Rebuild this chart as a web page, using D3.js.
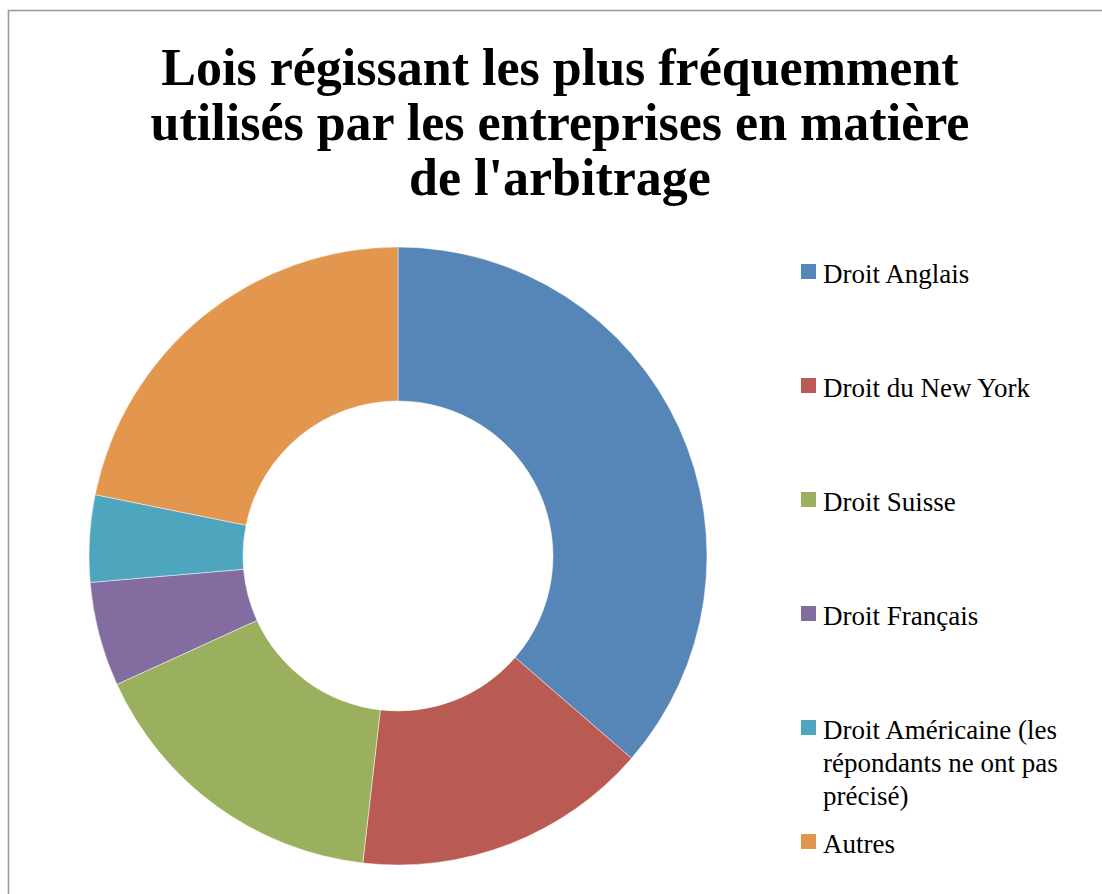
<!DOCTYPE html>
<html>
<head>
<meta charset="utf-8">
<script src="https://cdn.jsdelivr.net/npm/d3@7"></script>
<style>
  body { margin: 0; background: #fff; }
  svg { display: block; }
</style>
</head>
<body>
<div id="chart"></div>
<script>
const TITLE_LINES = [
  "Lois régissant les plus fréquemment",
  "utilisés par les entreprises en matière",
  "de l'arbitrage"
];

const CATEGORIES = [
  "Droit Anglais",
  "Droit du New York",
  "Droit Suisse",
  "Droit Français",
  "Droit Américaine (les\nrépondants ne ont pas\nprécisé)",
  "Autres"
];
const VALUES = [40, 17, 18, 6, 5, 24];
const COLORS = ["#5586B7", "#B95B52", "#9BB05E", "#836CA0", "#4EA6BE", "#E3964E"];

const WIDTH = 1102;
const HEIGHT = 894;
const CX = 398;
const CY = 556;
const OUTER_R = 309;
const INNER_R = 155;

document.addEventListener('DOMContentLoaded', function() {
  drawChart();
});

function drawChart()
{
  var svg = d3.select('#chart').append('svg')
    .attr('width', WIDTH)
    .attr('height', HEIGHT);

  svg.append('rect')
    .attr('x', 8.5)
    .attr('y', 10.5)
    .attr('width', WIDTH + 20)
    .attr('height', HEIGHT + 20)
    .style('fill', '#fff')
    .style('stroke', '#9c9c9c')
    .style('stroke-width', 1.6);

  // title
  var titleY = d3.scaleLinear().domain([0, 1]).range([85, 140]);
  svg.append('g').selectAll('text')
    .data(TITLE_LINES)
    .enter()
    .append('text')
    .attr('x', 560)
    .attr('y', function(d, i) { return titleY(i); })
    .attr('text-anchor', 'middle')
    .style('font-family', '"Liberation Serif", serif')
    .style('font-weight', 'bold')
    .style('font-size', '52px')
    .style('fill', '#000')
    .text(function(d) { return d; });

  // donut
  var data = CATEGORIES.map(function(c, i) {
    return { name: c, value: VALUES[i], color: COLORS[i] };
  });
  var pie = d3.pie().value(function(d) { return d.value; }).sort(null);
  var arc = d3.arc().innerRadius(INNER_R).outerRadius(OUTER_R);

  svg.append('g')
    .attr('transform', 'translate(' + CX + ',' + CY + ')')
    .selectAll('path')
    .data(pie(data))
    .enter()
    .append('path')
    .attr('d', arc)
    .style('fill', function(d) { return d.data.color; })
    .style('stroke', 'rgba(255,255,255,0.6)')
    .style('stroke-width', 0.8);

  // legend
  var legendY = d3.scaleLinear().domain([0, 1]).range([283, 397]);
  var item = svg.append('g').selectAll('g')
    .data(data)
    .enter()
    .append('g')
    .attr('transform', function(d, i) { return 'translate(801,' + legendY(i) + ')'; });

  item.append('rect')
    .attr('x', 0)
    .attr('y', -19)
    .attr('width', 15)
    .attr('height', 15)
    .style('fill', function(d) { return d.color; });

  item.append('text')
    .attr('x', 22)
    .attr('y', 0)
    .style('font-family', '"Liberation Serif", serif')
    .style('font-size', '27px')
    .style('fill', '#000')
    .each(function(d) {
      var lines = d.name.split('\n');
      var t = d3.select(this);
      lines.forEach(function(line, k) {
        t.append('tspan')
          .attr('x', 22)
          .attr('dy', k == 0 ? 0 : 33)
          .text(line);
      });
    });
}
</script>
</body>
</html>
